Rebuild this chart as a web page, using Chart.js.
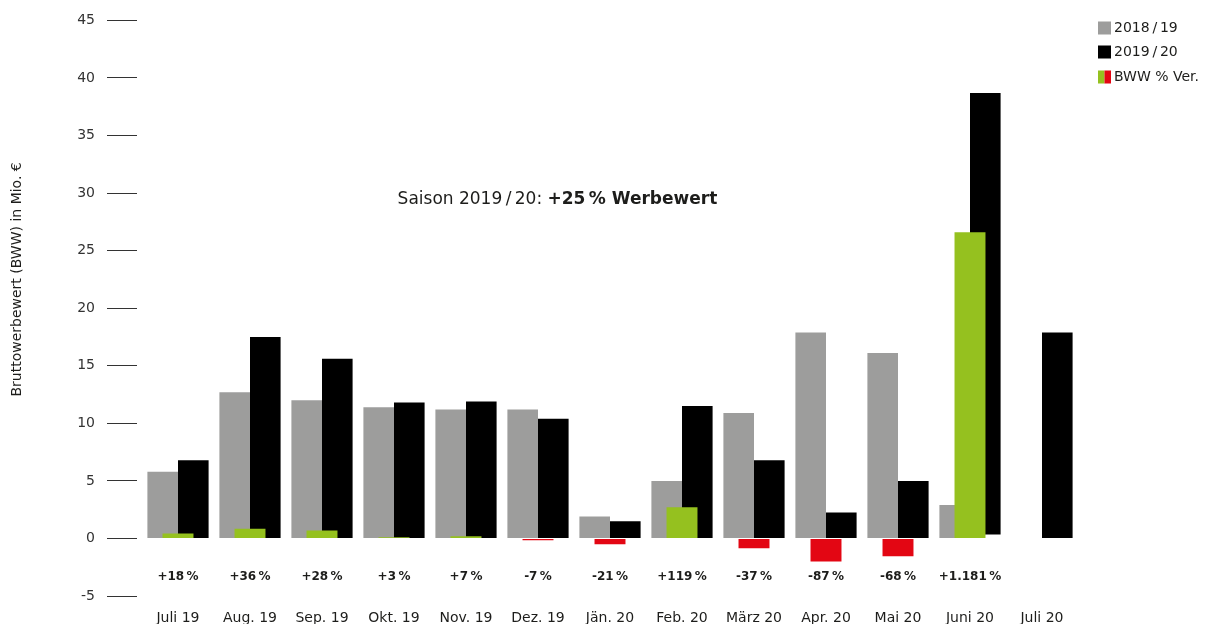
<!DOCTYPE html>
<html>
<head>
<meta charset="utf-8">
<script src="https://cdn.jsdelivr.net/npm/chart.js@4.4.0/dist/chart.umd.min.js"></script>
<style>
  html, body { margin: 0; padding: 0; background: #fff; }
  #wrap { width: 1217px; height: 624px; position: relative; }
</style>
</head>
<body>
<div id="wrap"><canvas id="c" width="1217" height="624"></canvas></div>
<script>
const categories = ['Juli 19','Aug. 19','Sep. 19','Okt. 19','Nov. 19','Dez. 19','Jän. 20','Feb. 20','März 20','Apr. 20','Mai 20','Juni 20','Juli 20'];
const season1819 = [5.8, 12.7, 12.0, 11.4, 11.2, 11.2, 1.9, 5.0, 10.9, 17.9, 16.1, 2.9, null];
const season1920 = [6.8, 17.5, 15.6, 11.8, 11.9, 10.4, 1.5, 11.5, 6.8, 2.25, 5.0, [0.35, 38.7], 17.9];
const changeBars = [0.42, 0.85, 0.68, 0.1, 0.2, -0.15, -0.5, 2.7, -0.85, -2.0, -1.55, 26.6, null];
const changeLabels = ['+18\u2009%','+36\u2009%','+28\u2009%','+3\u2009%','+7\u2009%','-7\u2009%','-21\u2009%','+119\u2009%','-37\u2009%','-87\u2009%','-68\u2009%','+1.181\u2009%',''];
const legendLabels = ['2018\u2009/\u200919','2019\u2009/\u200920','BWW % Ver.'];
const yAxisTitle = 'Bruttowerbewert (BWW) in Mio. €';
const noteNormal = 'Saison 2019\u2009/\u200920: ';
const noteBold = '+25\u2009% Werbewert';
const notePos = { category: 3.05, value: 29.4 };
const titleCenterValue = 22.5;

const FONT = '"DejaVu Sans", sans-serif';
const GRAY = '#9d9d9c', BLACK = '#000000', GREEN = '#95c11f', RED = '#e30613', TEXT = '#1d1d1b';

const overlayPlugin = {
  id: 'overlay',
  afterDatasetsDraw(chart) {
    const ctx = chart.ctx;
    const x = chart.scales.x, y = chart.scales.y;
    ctx.save();
    // percent labels
    ctx.font = 'bold 12px ' + FONT;
    ctx.fillStyle = TEXT;
    ctx.textAlign = 'center';
    ctx.textBaseline = 'middle';
    changeLabels.forEach((t, i) => {
      if (!t) return;
      ctx.fillText(t, x.getPixelForValue(i), y.getPixelForValue(-3.35));
    });
    // annotation
    const nx = x.getPixelForValue(notePos.category);
    const ny = y.getPixelForValue(notePos.value);
    ctx.textAlign = 'left';
    ctx.font = '17px ' + FONT;
    ctx.fillText(noteNormal, nx, ny);
    const w = ctx.measureText(noteNormal).width;
    ctx.font = 'bold 17px ' + FONT;
    ctx.fillText(noteBold, nx + w, ny);
    // y-axis title
    ctx.save();
    ctx.translate(17, y.getPixelForValue(titleCenterValue));
    ctx.rotate(-Math.PI / 2);
    ctx.textAlign = 'center';
    ctx.font = '14px ' + FONT;
    ctx.fillStyle = TEXT;
    ctx.fillText(yAxisTitle, 0, 0);
    ctx.restore();
    // legend
    const lx = 1098, ys = [28, 52, 77], s = 13;
    ctx.font = '14px ' + FONT;
    ctx.textAlign = 'left';
    legendLabels.forEach((t, i) => {
      const cy = ys[i];
      if (i === 0) { ctx.fillStyle = GRAY; ctx.fillRect(lx, cy - s/2, s, s); }
      else if (i === 1) { ctx.fillStyle = BLACK; ctx.fillRect(lx, cy - s/2, s, s); }
      else {
        ctx.fillStyle = GREEN; ctx.fillRect(lx, cy - s/2, s/2, s);
        ctx.fillStyle = RED; ctx.fillRect(lx + s/2, cy - s/2, s/2, s);
      }
      ctx.fillStyle = TEXT;
      ctx.fillText(t, lx + s + 3, cy);
    });
    ctx.restore();
  }
};

new Chart(document.getElementById('c'), {
  type: 'bar',
  data: {
    labels: categories,
    datasets: [
      { label: legendLabels[0], data: season1819, backgroundColor: GRAY, categoryPercentage: 0.85, barPercentage: 1.0, order: 1 },
      { label: legendLabels[1], data: season1920, backgroundColor: BLACK, categoryPercentage: 0.85, barPercentage: 1.0, order: 1 },
      { label: legendLabels[2], data: changeBars, backgroundColor: changeBars.map(v => (v !== null && v < 0) ? RED : GREEN), grouped: false, categoryPercentage: 0.43, barPercentage: 1.0, order: 0 }
    ]
  },
  options: {
    responsive: false,
    animation: false,
    layout: { padding: { top: 19, right: 139, bottom: 0, left: 0 } },
    plugins: { legend: { display: false }, tooltip: { enabled: false } },
    scales: {
      x: {
        type: 'category',
        offset: true,
        grid: { display: false },
        border: { display: false },
        ticks: { font: { family: FONT, size: 14 }, color: TEXT, padding: 6, autoSkip: false, maxRotation: 0 },
        afterFit: s => { s.height = 28; }
      },
      y: {
        min: -5, max: 45,
        ticks: { stepSize: 5, font: { family: FONT, size: 14 }, color: '#333333', padding: 12 },
        grid: { drawOnChartArea: false, tickLength: 35, tickColor: '#333333', tickWidth: 1, tickBorderDash: [30, 200] },
        border: { display: false },
        title: { display: false },
        afterFit: s => { s.width = 142; }
      }
    }
  },
  plugins: [overlayPlugin]
});
</script>
</body>
</html>
